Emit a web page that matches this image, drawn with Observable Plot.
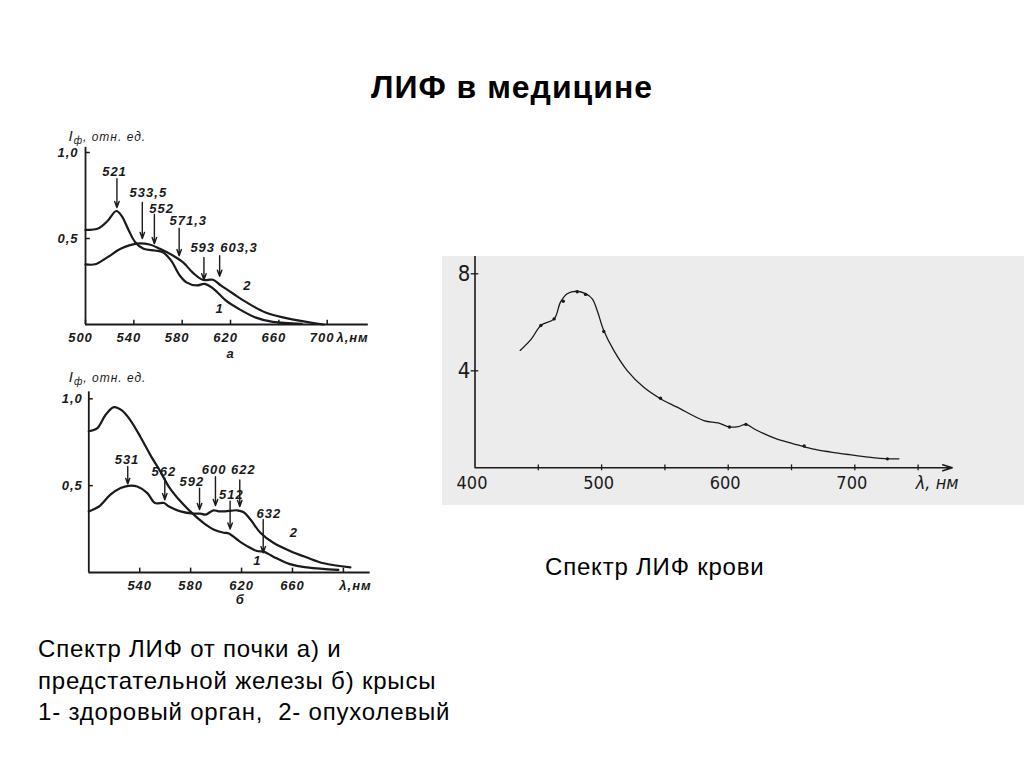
<!DOCTYPE html>
<html>
<head>
<meta charset="utf-8">
<script src="https://cdn.jsdelivr.net/npm/d3@7"></script>
<script src="https://cdn.jsdelivr.net/npm/@observablehq/plot@0.6"></script>
<style>
  body { margin: 0; background: #fff; }
  #page { position: relative; width: 1024px; height: 768px; overflow: hidden; font-family: "Liberation Sans", Arial, sans-serif; color: #000; }
  .abs { position: absolute; }
  #title { left: 0; width: 1024px; top: 71px; text-align: center; font-weight: bold; font-size: 32px; line-height: 32px; letter-spacing: 1px; }
  #bloodCap { left: 545px; top: 555px; font-size: 24px; line-height: 24px; letter-spacing: 0.8px; white-space: nowrap; }
  #caption { left: 38px; top: 633px; font-size: 24px; line-height: 31.5px; letter-spacing: 0.8px; white-space: nowrap; }
  #chartA { left: 20px; top: 110px; }
  #chartB { left: 20px; top: 360px; }
  #chartC { left: 442px; top: 256px; }
</style>
</head>
<body>
<div id="page">
  <div id="title" class="abs">ЛИФ в медицине</div>
  <div id="chartA" class="abs"></div>
  <div id="chartB" class="abs"></div>
  <div id="chartC" class="abs"></div>
  <div id="bloodCap" class="abs">Спектр ЛИФ крови</div>
  <div id="caption" class="abs">Спектр ЛИФ от почки а) и<br>предстательной железы б) крысы<br>1- здоровый орган,&nbsp; 2- опухолевый</div>
</div>
<script>
// ---------- Chart а (kidney) ----------
const aLambda1 = [500, 511, 518, 525.5, 530, 535.6, 541, 548, 557.5, 564, 571, 578, 583.5, 592, 598.6, 605.5, 616, 627, 641, 655, 679];
const aCurve1  = [0.55, 0.56, 0.60, 0.66, 0.63, 0.55, 0.48, 0.44, 0.43, 0.42, 0.37, 0.285, 0.245, 0.227, 0.236, 0.21, 0.14, 0.09, 0.04, 0.015, 0.004];
const aLambda2 = [500, 508, 518, 529, 542.5, 553, 561.6, 572.6, 581, 589, 597, 605.5, 612, 622, 633, 649, 671, 697];
const aCurve2  = [0.35, 0.35, 0.39, 0.44, 0.47, 0.465, 0.44, 0.40, 0.36, 0.30, 0.26, 0.26, 0.227, 0.18, 0.13, 0.07, 0.03, 0.0];
const aArrowX     = [526, 547, 557, 577.5, 598, 611];
const aArrowTop   = [0.847, 0.71, 0.64, 0.56, 0.39, 0.40];
const aArrowTip   = [0.68, 0.50, 0.47, 0.40, 0.26, 0.28];
const aArrowText  = ["521", "533,5", "552", "571,3", "593", "603,3"];
const aArrowTextX = [524, 552, 563, 585, 597, 627];
const aArrowTextY = [0.886, 0.765, 0.672, 0.605, 0.446, 0.446];
const aXTicks = [500, 540, 580, 620, 660, 700];
const aXTickLabels = ["500", "540", "580", "620", "660", "700"];
const aYTicks = [0.5, 1.0];
const aYTickLabels = ["0,5", "1,0"];
const aCurveLabels = ["1", "2"];
const aCurveLabelX = [611, 634];
const aCurveLabelY = [0.09, 0.227];

// ---------- Chart б (prostate) ----------
const bLambda1 = [500, 506.5, 513, 519.6, 526, 532.7, 540.6, 548.4, 556.3, 562.8, 572, 581, 590, 598, 606, 610, 616.5, 624.3, 632, 637.4, 645, 658, 671.5, 696];
const bCurve1  = [0.813, 0.83, 0.905, 0.952, 0.933, 0.876, 0.78, 0.676, 0.58, 0.495, 0.41, 0.343, 0.286, 0.248, 0.229, 0.225, 0.19, 0.152, 0.124, 0.12, 0.091, 0.048, 0.029, 0.015];
const bLambda2 = [500, 508, 517, 525, 531.4, 538, 546, 552, 559, 563, 572, 582.5, 587.7, 591.6, 598, 602, 607, 616.5, 621.7, 627, 634.8, 645, 658, 671.5, 684.6, 705.5];
const bCurve2  = [0.352, 0.38, 0.448, 0.486, 0.499, 0.495, 0.457, 0.40, 0.40, 0.38, 0.352, 0.339, 0.339, 0.333, 0.358, 0.352, 0.352, 0.358, 0.347, 0.305, 0.229, 0.171, 0.124, 0.086, 0.053, 0.029];
const bArrowX     = [530.6, 559.7, 587, 599.5, 611, 618.6, 637];
const bArrowTop   = [0.61, 0.543, 0.486, 0.552, 0.41, 0.533, 0.305];
const bArrowTip   = [0.51, 0.419, 0.362, 0.385, 0.25, 0.38, 0.114];
const bArrowText  = ["531", "562", "592", "600", "512", "622", "632"];
const bArrowTextX = [530, 559, 581, 598.5, 612, 621.5, 641.4];
const bArrowTextY = [0.648, 0.581, 0.524, 0.59, 0.448, 0.59, 0.339];
const bXTicks = [540, 580, 620, 660, 700];
const bXTickLabels = ["540", "580", "620", "660"];
const bYTicks = [0.5, 1.0];
const bYTickLabels = ["0,5", "1,0"];
const bCurveLabels = ["1", "2"];
const bCurveLabelX = [632.5, 661];
const bCurveLabelY = [0.065, 0.229];

// ---------- Chart: blood ----------
const cLambda = [435.7, 444.6, 452, 462.5, 467.5, 472.8, 480.7, 487.3, 492.6, 496.5, 501.7, 509.6, 520.2, 533.3, 546.5, 559.7, 580.7, 592, 601, 608, 614, 621.7, 636.6, 651.5, 666.4, 681, 696, 711, 726, 734.8];
const cValue  = [4.84, 5.32, 5.87, 6.14, 6.83, 7.18, 7.28, 7.18, 6.97, 6.49, 5.66, 4.84, 4.01, 3.32, 2.85, 2.50, 1.95, 1.85, 1.68, 1.70, 1.79, 1.57, 1.22, 0.99, 0.78, 0.65, 0.54, 0.44, 0.37, 0.37];
const cDotLambda = [452, 462.5, 469.7, 480.7, 487.3, 501.7, 546.5, 601, 614, 660, 725.7];
const cDotValue  = [5.87, 6.14, 6.87, 7.26, 7.15, 5.62, 2.87, 1.68, 1.79, 0.9, 0.37];
const cXTicks = [400, 500, 600, 700];
const cXTickLabels = ["400", "500", "600", "700"];
const cXMinor = [450, 500, 550, 600, 650, 700, 750];
const cYTicks = [4, 8];
const cYTickLabels = ["4", "8"];

const ink = "#1a1a1a";
const sciStyle = { background: "transparent", fontFamily: "'Liberation Sans', Arial, sans-serif", fontStyle: "italic", fontWeight: "bold", fontSize: "13px", letterSpacing: "1px", overflow: "visible", color: ink };

function fixIlabel(svg) {
  d3.select(svg).selectAll("text").filter(function () { return this.textContent.startsWith("Iф"); }).each(function () {
    const t = d3.select(this);
    t.text(null);
    t.append("tspan").attr("font-size", "15px").text("I");
    t.append("tspan").attr("font-size", "10px").attr("dy", "3").text("ф");
    t.append("tspan").attr("dy", "-3").text(", отн. ед.");
  });
}

// Chart а
const svgA = Plot.plot({
  width: 380, height: 255,
  marginLeft: 65, marginRight: 31, marginTop: 42, marginBottom: 41,
  x: { domain: [500, 735], axis: null },
  y: { domain: [0, 1], axis: null },
  style: sciStyle,
  marks: [
    Plot.ruleY([0], { x1: 500, x2: 734, stroke: ink, strokeWidth: 1.8 }),
    Plot.ruleX([500], { y1: 0, y2: 1.03, stroke: ink, strokeWidth: 1.8 }),
    Plot.ruleX(aXTicks, { x: d => d, y1: 0, y2: 0.025, stroke: ink, strokeWidth: 1.5 }),
    Plot.ruleY(aYTicks, { y: d => d, x1: 500, x2: 504, stroke: ink, strokeWidth: 1.5 }),
    Plot.text(aXTicks, { x: d => d, y: 0, dy: 13, dx: -5, text: (d, i) => aXTickLabels[i], fill: ink }),
    Plot.text(["λ,нм"], { x: 721, y: 0, dy: 13, text: d => d, fill: ink }),
    Plot.text(aYTicks, { x: 500, y: d => d, dx: -7, textAnchor: "end", text: (d, i) => aYTickLabels[i], fill: ink }),
    Plot.text(["Iф, отн. ед."], { x: 500, y: 1.087, dx: -17, textAnchor: "start", text: d => d, fill: ink, fontSize: 12, fontWeight: "normal" }),
    Plot.text(["а"], { x: 620, y: -0.17, text: d => d, fill: ink }),
    Plot.line(aLambda1, { x: d => d, y: (d, i) => aCurve1[i], curve: "catmull-rom", stroke: ink, strokeWidth: 2.2 }),
    Plot.line(aLambda2, { x: d => d, y: (d, i) => aCurve2[i], curve: "catmull-rom", stroke: ink, strokeWidth: 2.2 }),
    Plot.arrow(aArrowX, { x: d => d, y1: (d, i) => aArrowTop[i], y2: (d, i) => aArrowTip[i], stroke: ink, strokeWidth: 1.4, headLength: 7, headAngle: 40 }),
    Plot.text(aArrowX, { x: (d, i) => aArrowTextX[i], y: (d, i) => aArrowTextY[i], text: (d, i) => aArrowText[i], fill: ink }),
    Plot.text(aCurveLabels, { x: (d, i) => aCurveLabelX[i], y: (d, i) => aCurveLabelY[i], text: d => d, fill: ink })
  ]
});
fixIlabel(svgA);
document.getElementById("chartA").appendChild(svgA);

// Chart б
const svgB = Plot.plot({
  width: 380, height: 255,
  marginLeft: 68.3, marginRight: 29.1, marginTop: 38.3, marginBottom: 43,
  x: { domain: [500, 722], axis: null },
  y: { domain: [0, 1], axis: null },
  style: sciStyle,
  marks: [
    Plot.ruleY([0], { x1: 500, x2: 721, stroke: ink, strokeWidth: 1.8 }),
    Plot.ruleX([500], { y1: 0, y2: 1.04, stroke: ink, strokeWidth: 1.8 }),
    Plot.ruleX(bXTicks, { x: d => d, y1: 0, y2: 0.025, stroke: ink, strokeWidth: 1.5 }),
    Plot.ruleY(bYTicks, { y: d => d, x1: 500, x2: 503.5, stroke: ink, strokeWidth: 1.5 }),
    Plot.text(bXTickLabels, { x: (d, i) => bXTicks[i], y: 0, dy: 13, text: d => d, fill: ink }),
    Plot.text(["λ,нм"], { x: 709.5, y: 0, dy: 13, text: d => d, fill: ink }),
    Plot.text(bYTicks, { x: 500, y: d => d, dx: -6, textAnchor: "end", text: (d, i) => bYTickLabels[i], fill: ink }),
    Plot.text(["Iф, отн. ед."], { x: 500, y: 1.117, dx: -20, textAnchor: "start", text: d => d, fill: ink, fontSize: 12, fontWeight: "normal" }),
    Plot.text(["б"], { x: 619, y: -0.16, text: d => d, fill: ink }),
    Plot.line(bLambda1, { x: d => d, y: (d, i) => bCurve1[i], curve: "catmull-rom", stroke: ink, strokeWidth: 2.2 }),
    Plot.line(bLambda2, { x: d => d, y: (d, i) => bCurve2[i], curve: "catmull-rom", stroke: ink, strokeWidth: 2.2 }),
    Plot.arrow(bArrowX, { x: d => d, y1: (d, i) => bArrowTop[i], y2: (d, i) => bArrowTip[i], stroke: ink, strokeWidth: 1.4, headLength: 7, headAngle: 40 }),
    Plot.text(bArrowX, { x: (d, i) => bArrowTextX[i], y: (d, i) => bArrowTextY[i], text: (d, i) => bArrowText[i], fill: ink, letterSpacing: "0.3px" }),
    Plot.text(bCurveLabels, { x: (d, i) => bCurveLabelX[i], y: (d, i) => bCurveLabelY[i], text: d => d, fill: ink })
  ]
});
fixIlabel(svgB);
document.getElementById("chartB").appendChild(svgB);

// Chart: blood
const handStyle = { background: "#ececec", fontFamily: "'Liberation Sans Narrow', 'DejaVu Sans Condensed', sans-serif", fontSize: "18px", overflow: "visible", color: ink };
const svgC = Plot.plot({
  width: 582, height: 249,
  marginLeft: 32.5, marginRight: 68.4, marginTop: 17.3, marginBottom: 37.7,
  x: { domain: [400, 780], axis: null },
  y: { domain: [0, 8], axis: null },
  style: handStyle,
  marks: [
    Plot.arrow([0], { x1: 400, x2: 777, y1: 0, y2: 0, stroke: ink, strokeWidth: 1.5, headLength: 10, headAngle: 35 }),
    Plot.ruleX([400], { y1: 0, y2: 8.71, stroke: ink, strokeWidth: 1.6 }),
    Plot.ruleX(cXMinor, { x: d => d, y1: -0.12, y2: 0.12, stroke: ink, strokeWidth: 1.3 }),
    Plot.ruleY(cYTicks, { y: d => d, x1: 397, x2: 403, stroke: ink, strokeWidth: 1.3 }),
    Plot.text(cXTicks, { x: d => d, y: 0, dy: 15, dx: -3, text: (d, i) => cXTickLabels[i], fill: ink }),
    Plot.text(["λ, нм"], { x: 765, y: 0, dy: 15, text: d => d, fill: ink, fontStyle: "italic" }),
    Plot.text(cYTicks, { x: 400, y: d => d, dx: -11, text: (d, i) => cYTickLabels[i], fill: ink, fontSize: 22 }),
    Plot.line(cLambda, { x: d => d, y: (d, i) => cValue[i], curve: "catmull-rom", stroke: ink, strokeWidth: 1.3 }),
    Plot.dot(cDotLambda, { x: d => d, y: (d, i) => cDotValue[i], r: 1.7, fill: ink, stroke: "none" })
  ]
});
document.getElementById("chartC").appendChild(svgC);
</script>
</body>
</html>
